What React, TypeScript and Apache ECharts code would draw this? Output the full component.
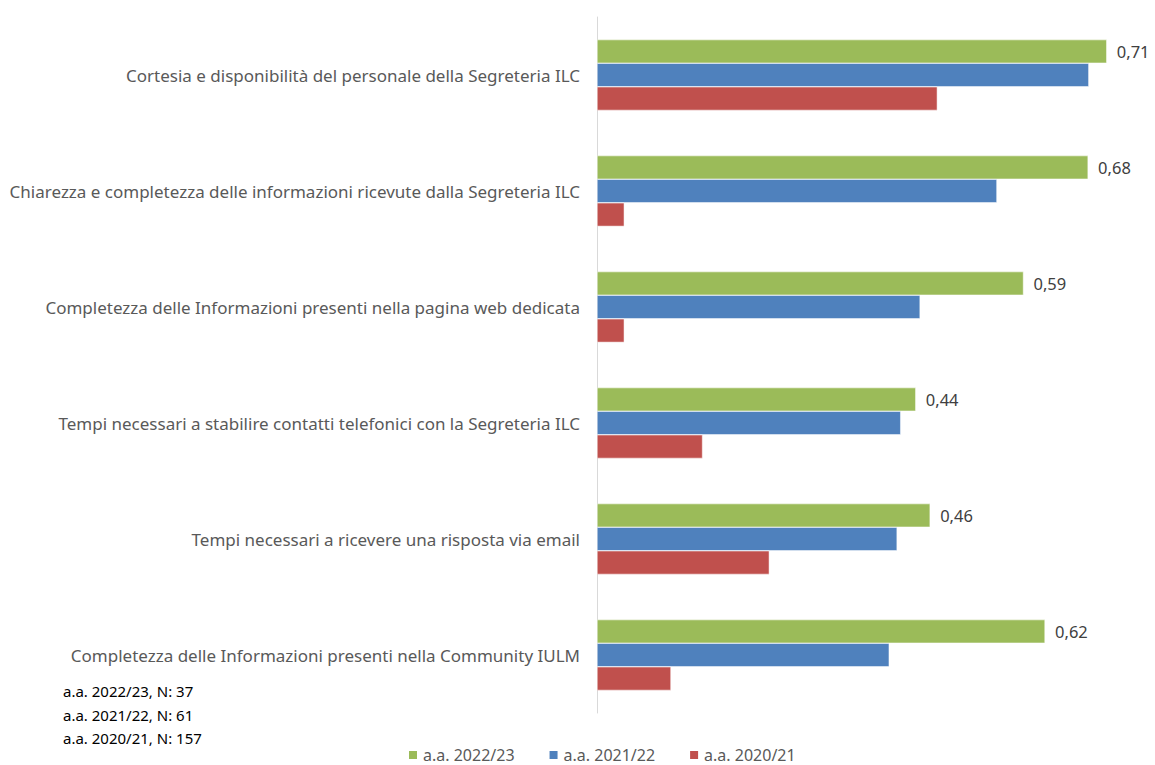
import React, { useEffect, useRef } from "react";
import * as echarts from "echarts";

const categories = [
  "Cortesia e disponibilità del personale della Segreteria ILC",
  "Chiarezza e completezza delle informazioni ricevute dalla Segreteria ILC",
  "Completezza delle Informazioni presenti nella pagina web dedicata",
  "Tempi necessari a stabilire contatti telefonici con la Segreteria ILC",
  "Tempi necessari a ricevere una risposta via email",
  "Completezza delle Informazioni presenti nella Community IULM",
];
const seriesNames = ["a.a. 2022/23", "a.a. 2021/22", "a.a. 2020/21"];
const values2223 = [0.71, 0.684, 0.594, 0.444, 0.464, 0.624];
const values2122 = [0.685, 0.557, 0.45, 0.423, 0.418, 0.407];
const values2021 = [0.474, 0.038, 0.038, 0.147, 0.24, 0.103];
const notes = ["a.a. 2022/23, N: 37", "a.a. 2021/22, N: 61", "a.a. 2020/21, N: 157"];
const colors = ["#9BBB59", "#4F81BD", "#C0504D"];

export default function App() {
  const ref = useRef<HTMLDivElement>(null);
  useEffect(() => {
    if (!ref.current) return;
    const chart = echarts.init(ref.current, null, { renderer: "svg" });
    const font = "'Noto Sans', sans-serif";
    const data = [values2223, values2122, values2021];
    chart.setOption({
      animation: false,
      backgroundColor: "#ffffff",
      grid: { left: 597, top: 17, height: 696, right: 19.5, containLabel: false },
      xAxis: {
        type: "value",
        min: 0,
        max: 0.75,
        show: false,
      },
      yAxis: {
        type: "category",
        data: categories,
        inverse: true,
        axisLine: { show: true, lineStyle: { color: "#d9d9d9", width: 1 } },
        axisTick: { show: false },
        axisLabel: {
          color: "#595959",
          fontSize: 17,
          fontFamily: font,
          margin: 17,
        },
      },
      legend: {
        top: 746,
        left: 407,
        padding: 0,
        itemWidth: 10,
        itemHeight: 10,
        itemGap: 33,
        icon: "rect",
        textStyle: { color: "#595959", fontSize: 16, lineHeight: 18, fontFamily: font },
        data: seriesNames,
      },
      series: seriesNames.map((name, i) => ({
        name,
        type: "bar",
        data: data[i],
        barGap: "0%",
        barCategoryGap: "39%",
        itemStyle: { color: colors[i], borderColor: "#ffffff", borderWidth: 0.5 },
        label:
          i === 0
            ? {
                show: true,
                position: "right",
                distance: 10,
                color: "#404040",
                fontSize: 16.5,
                fontFamily: font,
                formatter: (p: any) => p.value.toFixed(2).replace(".", ","),
              }
            : { show: false },
      })),
      graphic: notes.map((t, i) => ({
        type: "text",
        left: 63,
        top: 683.5 + i * 23.5,
        style: { text: t, fill: "#000000", fontSize: 15, fontFamily: font },
      })),
    });
    return () => chart.dispose();
  }, []);
  return (
    <div
      ref={ref}
      style={{ position: "fixed", left: 0, top: 0, width: 1155, height: 765 }}
    />
  );
}
